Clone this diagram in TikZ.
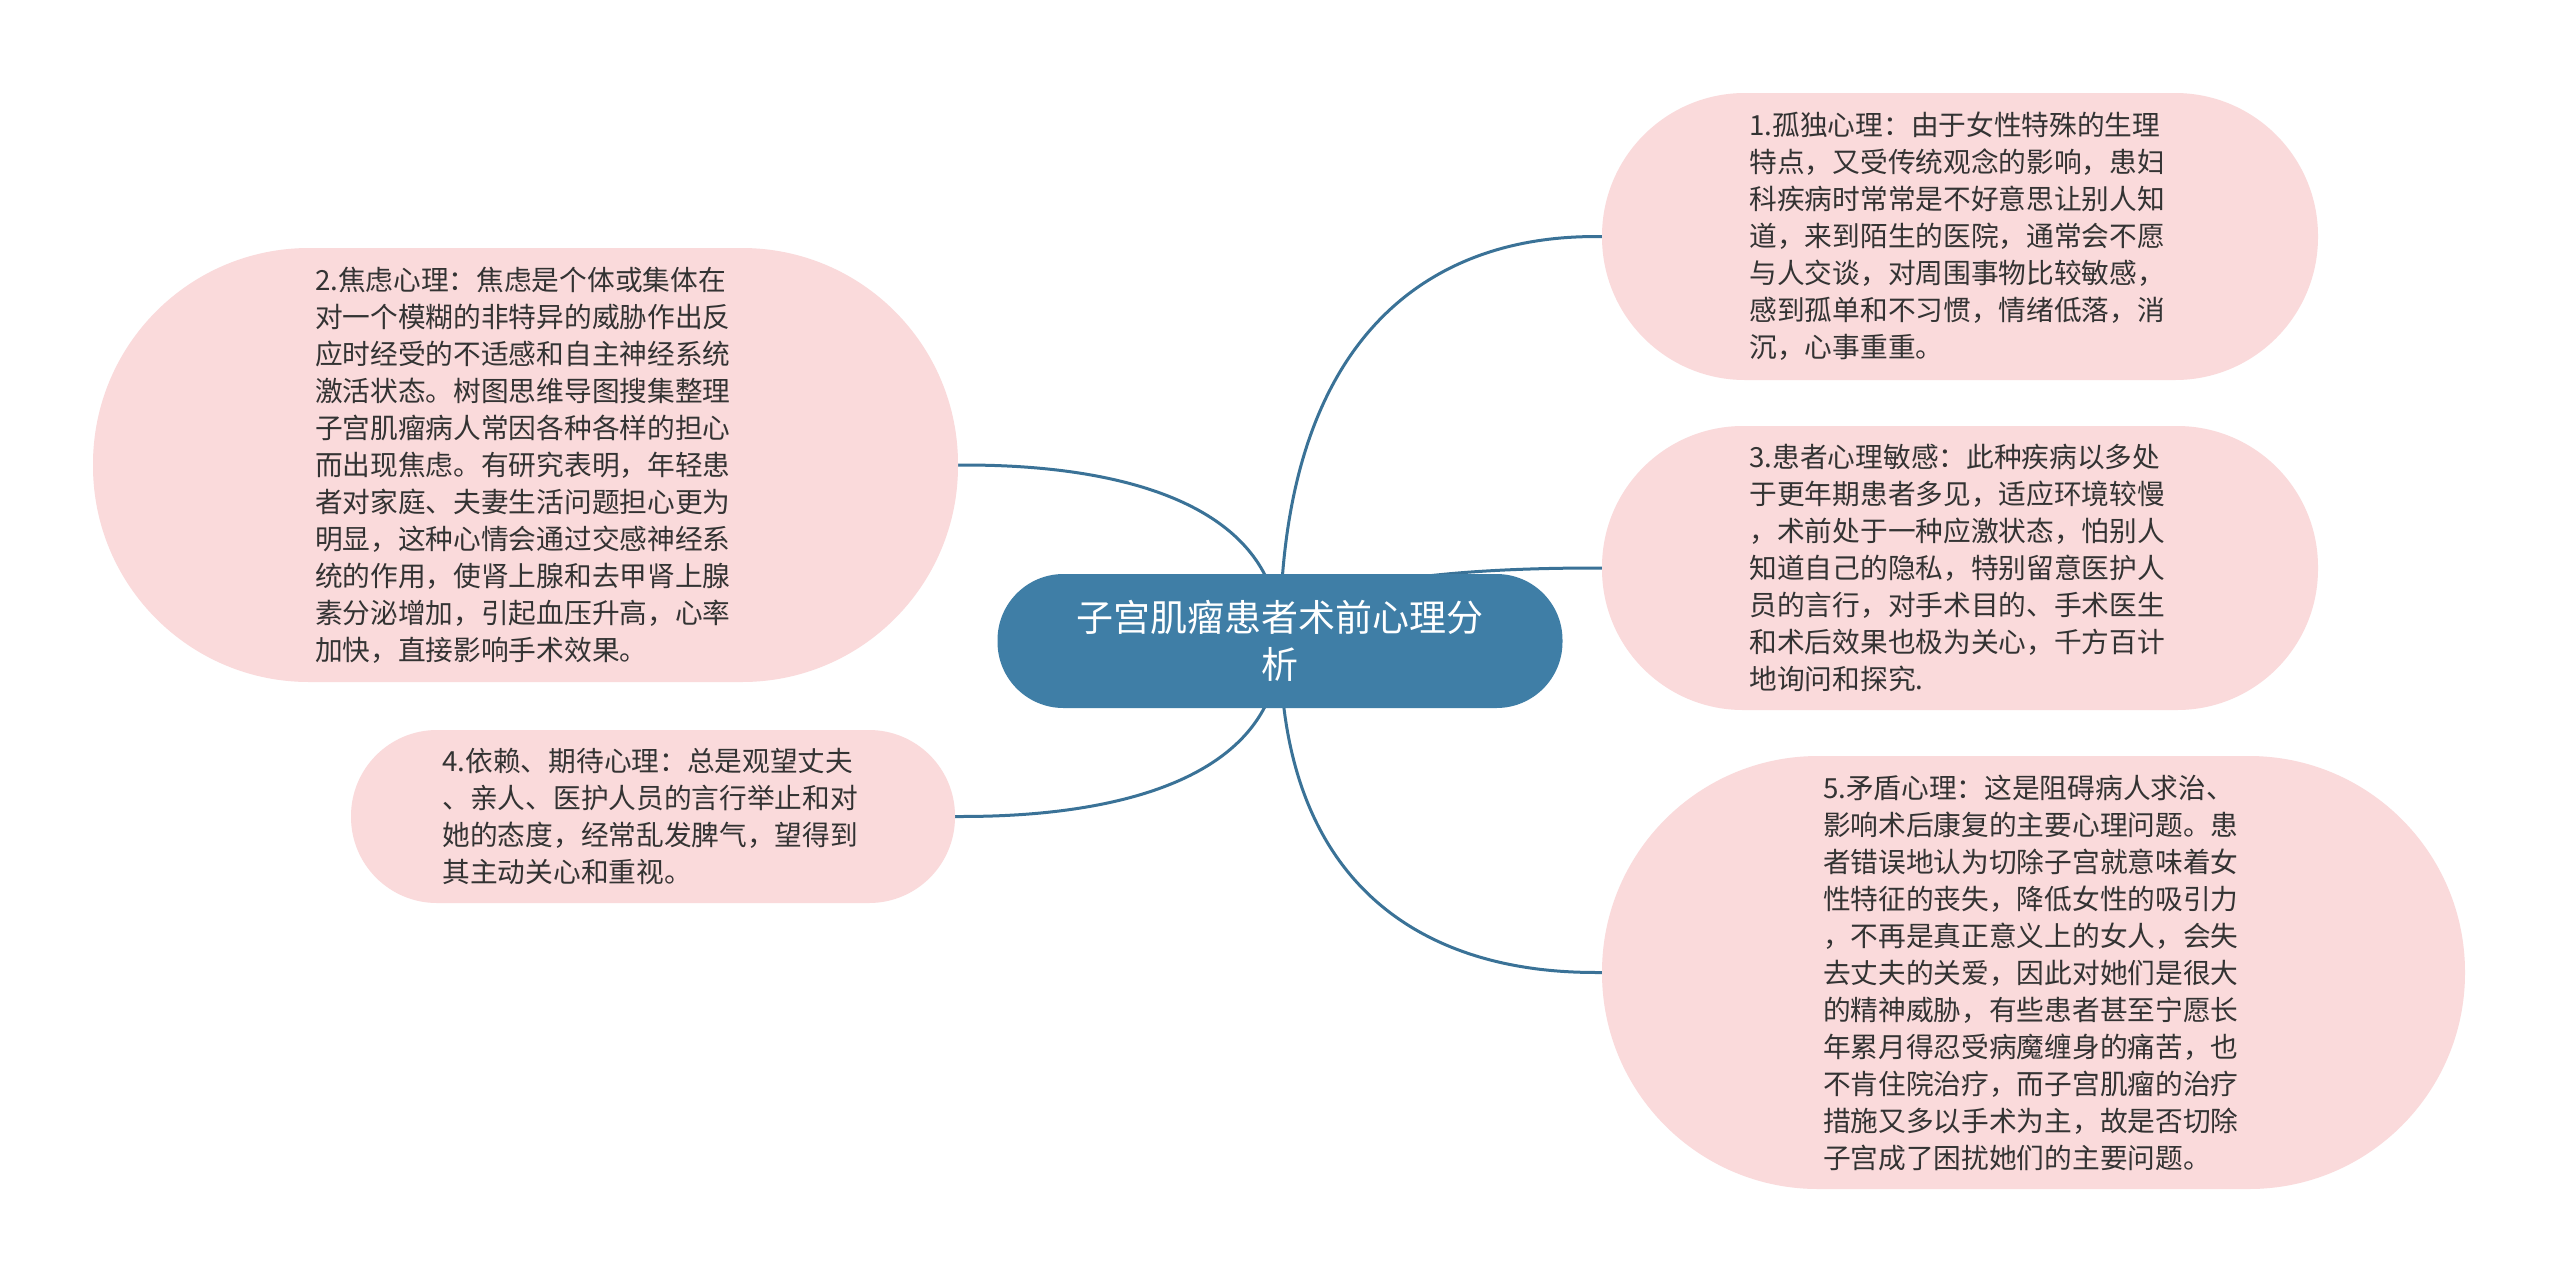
\documentclass[tikz,border=0pt]{standalone}
\usepackage{fontspec}
\setmainfont{Noto Sans CJK SC}
\usetikzlibrary{calc}
\pgfdeclarelayer{bg}
\pgfsetlayers{bg,main}
\definecolor{pinkfill}{HTML}{FADADB}
\definecolor{centerblue}{HTML}{3F7EA6}
\definecolor{linkblue}{HTML}{3A7297}
\definecolor{txt}{HTML}{333333}
\begin{document}
\begin{tikzpicture}[x=1pt,y=-1pt,
  leaf/.style={fill=pinkfill, text=txt, align=left, text width=421pt, inner sep=0pt,
    font=\fontsize{27.7}{37}\selectfont},
  root/.style={fill=centerblue, text=white, align=center, text width=420pt, inner sep=0pt,
    font=\fontsize{37}{47}\selectfont},
  link/.style={draw=linkblue, line width=3pt}]
\useasboundingbox (0,0) rectangle (2560,1283);

\node[root, minimum width=565pt, minimum height=134pt, rounded corners=66pt] (c) at (1280,641)
  {子宫肌瘤患者术前心理分\\析};

\node[leaf, minimum width=716pt, minimum height=287pt, rounded corners=143pt] (n1) at (1960,236.5)
  {1.孤独心理：由于女性特殊的生理\\特点，又受传统观念的影响，患妇\\科疾病时常常是不好意思让别人知\\道，来到陌生的医院，通常会不愿\\与人交谈，对周围事物比较敏感，\\感到孤单和不习惯，情绪低落，消\\沉，心事重重。};

\node[leaf, minimum width=865pt, minimum height=434pt, rounded corners=216pt] (n2) at (525.5,465)
  {2.焦虑心理：焦虑是个体或集体在\\对一个模糊的非特异的威胁作出反\\应时经受的不适感和自主神经系统\\激活状态。树图思维导图搜集整理\\子宫肌瘤病人常因各种各样的担心\\而出现焦虑。有研究表明，年轻患\\者对家庭、夫妻生活问题担心更为\\明显，这种心情会通过交感神经系\\统的作用，使肾上腺和去甲肾上腺\\素分泌增加，引起血压升高，心率\\加快，直接影响手术效果。};

\node[leaf, minimum width=716pt, minimum height=284pt, rounded corners=141pt] (n3) at (1960,568)
  {3.患者心理敏感：此种疾病以多处\\于更年期患者多见，适应环境较慢\\，术前处于一种应激状态，怕别人\\知道自己的隐私，特别留意医护人\\员的言行，对手术目的、手术医生\\和术后效果也极为关心，千方百计\\地询问和探究.};

\node[leaf, minimum width=604pt, minimum height=173pt, rounded corners=86pt] (n4) at (653,816.5)
  {4.依赖、期待心理：总是观望丈夫\\、亲人、医护人员的言行举止和对\\她的态度，经常乱发脾气，望得到\\其主动关心和重视。};

\node[leaf, minimum width=863pt, minimum height=433pt, rounded corners=216pt] (n5) at (2033.5,972.5)
  {5.矛盾心理：这是阻碍病人求治、\\影响术后康复的主要心理问题。患\\者错误地认为切除子宫就意味着女\\性特征的丧失，降低女性的吸引力\\，不再是真正意义上的女人，会失\\去丈夫的关爱，因此对她们是很大\\的精神威胁，有些患者甚至宁愿长\\年累月得忍受病魔缠身的痛苦，也\\不肯住院治疗，而子宫肌瘤的治疗\\措施又多以手术为主，故是否切除\\子宫成了困扰她们的主要问题。};

\begin{pgfonlayer}{bg}
\fill[white] (0,0) rectangle (2560,1283);
\foreach \n/\s in {n1/west, n3/west, n5/west, n2/east, n4/east}{
  \draw[link] (c.center) .. controls (c.center |- \n.\s) and ($(c.center |- \n.\s)!0.81!(\n.\s)$) .. (\n.\s);
}
\end{pgfonlayer}
\end{tikzpicture}
\end{document}
